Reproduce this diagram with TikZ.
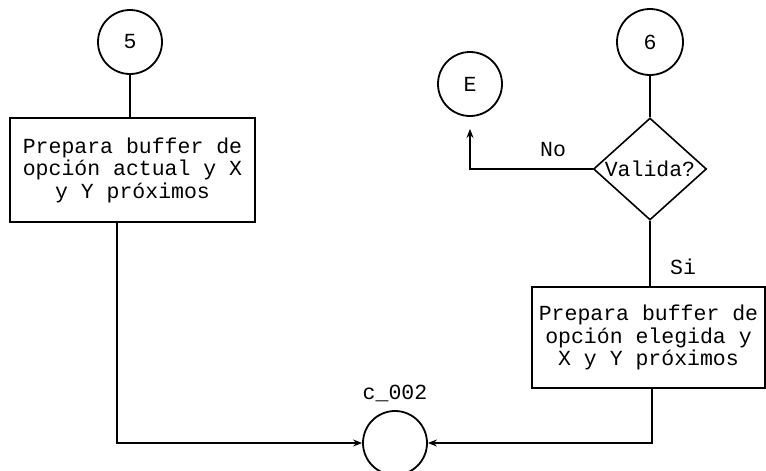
\documentclass[tikz,border=0pt]{standalone}
\usepackage{fontspec}
\setmonofont{Liberation Mono}
\usetikzlibrary{shapes.geometric,arrows.meta}
\begin{document}
\begin{tikzpicture}[x=1pt,y=-1pt,
  every node/.style={font=\ttfamily\fontsize{21.5}{22.5}\selectfont},
  conn/.style={draw, circle, line width=1.8pt, inner sep=0pt, minimum size=64pt},
  procbox/.style={draw, rectangle, line width=1.8pt, inner sep=0pt, align=center},
  decis/.style={draw, diamond, line width=1.6pt, inner sep=0pt, minimum width=113pt, minimum height=102pt},
  line/.style={line width=1.3pt},
  arr/.style={line, -{Stealth[length=9pt,width=7pt]}},
  lbl/.style={inner sep=0pt}]
\useasboundingbox (0,0) rectangle (766,471);
\clip (0,0) rectangle (766,471);
\node[conn] (c5) at (130,42) {5};
\node[procbox, minimum width=245pt, minimum height=104pt] (b1) at (132.5,170)
  {Prepara buffer de\\opción actual y X\\y Y próximos};
\node[conn, minimum size=66pt] (c6) at (650,42) {6};
\node[conn] (E) at (470,84) {E};
\node[decis] (d) at (650,169) {};
\node[lbl] (dt) at (d.center) {Valida?};
\node[procbox, minimum width=233pt, minimum height=101pt] (b2) at (648.5,337.5)
  {Prepara buffer de\\opción elegida y\\X y Y próximos};
\node[conn] (c002) at (395,443) {};
\node[lbl] (lc) at (395,393) {c\_002};
\node[lbl] (lno) at (553,150) {No};
\node[lbl] (lsi) at (683,267) {Si};
\draw[line] (c5.south) -- (c5.south |- b1.north);
\draw[line] (c6.south) -- (d.north);
\draw[arr, shorten >=12pt] (d.west) -| (E.south);
\draw[line] (d.south) -- (d.south |- b2.north);
\draw[arr] ([xshift=-15.5pt]b1.south) |- (c002.west);
\draw[arr] ([xshift=3.5pt]b2.south) |- (c002.east);
\end{tikzpicture}
\end{document}
